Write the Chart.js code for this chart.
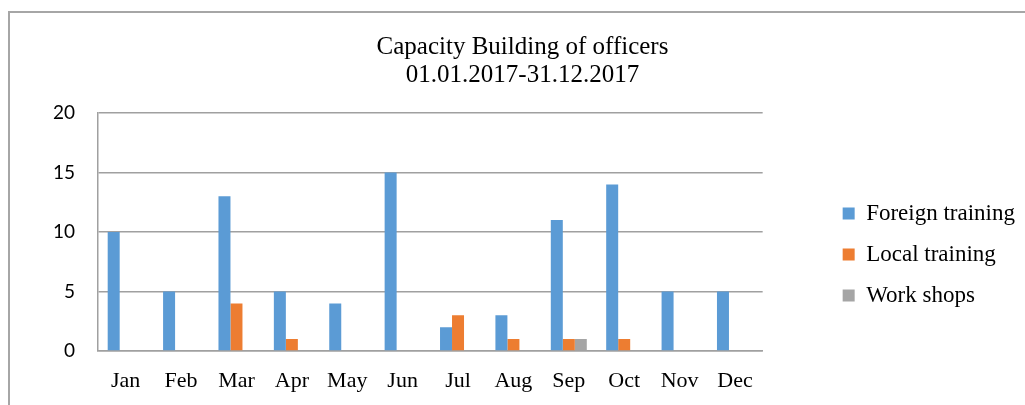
<!DOCTYPE html>
<html>
<head>
<meta charset="utf-8">
<script src="https://cdn.jsdelivr.net/npm/chart.js@4/dist/chart.umd.min.js"></script>
<style>
  body { margin: 0; background: #fff; }
  #wrap { position: relative; width: 1025px; height: 405px; overflow: hidden; }
  /* the frame of the chart object, only the left and top edges show */
  #frame { position: absolute; left: 8px; top: 11px; width: 1100px; height: 500px;
           border-left: 2px solid #a6a6a6; border-top: 2px solid #a6a6a6; }
  canvas { position: absolute; left: 0; top: 0; }
</style>
</head>
<body>
<div id="wrap">
  <div id="frame"></div>
  <canvas id="chart-output" width="1025" height="405"></canvas>
</div>
<script>
// chart data
const months = ["Jan", "Feb", "Mar", "Apr", "May", "Jun", "Jul", "Aug", "Sep", "Oct", "Nov", "Dec"];
const foreignTraining = [10, 5, 13, 5, 4, 15, 2, 3, 11, 14, 5, 5];
const localTraining = [0, 0, 4, 1, 0, 0, 3, 1, 1, 1, 0, 0];
const workShops = [0, 0, 0, 0, 0, 0, 0, 0, 1, 0, 0, 0];
const yTicks = [0, 5, 10, 15, 20];
const titleLines = ["Capacity Building of officers", "01.01.2017-31.12.2017"];

const serif = "'Liberation Serif', 'Times New Roman', serif";
const gridGray = "#a0a0a0";

const ctx = document.querySelector("#chart-output").getContext("2d");

const data = {
  labels: months,
  datasets: [
    { label: "Foreign training", data: foreignTraining, backgroundColor: "#5b9bd5" },
    { label: "Local training", data: localTraining, backgroundColor: "#ed7d31" },
    { label: "Work shops", data: workShops, backgroundColor: "#a5a5a5" },
  ],
};

const config = {
  type: "bar",
  data: data,
  options: {
    responsive: false,
    animation: false,
    layout: { padding: { left: 20, right: 0, top: 0, bottom: 11 } },
    datasets: {
      bar: { categoryPercentage: 0.65, barPercentage: 1.0, borderWidth: 0 },
    },
    plugins: {
      title: {
        display: true,
        text: titleLines,
        color: "#000",
        font: { family: serif, size: 25, weight: "normal", lineHeight: 1.12 },
        padding: { top: 33, bottom: 24 },
      },
      legend: {
        position: "right",
        align: "center",
        fullSize: true,
        maxWidth: 220,
        // blank title only pushes the entries down
        title: { display: true, text: " ", font: { size: 10 }, padding: { top: 0, bottom: 103 } },
        labels: {
          color: "#000",
          boxWidth: 12,
          boxHeight: 12,
          padding: 18,
          font: { family: serif, size: 23 },
        },
      },
      tooltip: { enabled: false },
    },
    scales: {
      x: {
        afterFit: (scale) => { scale.height = 43; },
        grid: { display: false, drawTicks: false },
        border: { display: true, color: gridGray, width: 1.5 },
        ticks: { color: "#000", padding: 17, font: { family: serif, size: 22 } },
      },
      y: {
        min: 0,
        max: 20,
        afterFit: (scale) => { scale.width = 78; },
        afterBuildTicks: (scale) => { scale.ticks = yTicks.map((v) => ({ value: v })); },
        grid: { color: gridGray, lineWidth: 1.5, drawTicks: false },
        border: { display: true, color: gridGray, width: 1.5 },
        ticks: { color: "#000", padding: 23, font: { family: "Lato, 'Liberation Sans', sans-serif", size: 19 } },
      },
      // empty axis that keeps the gap between plot and legend
      gap: {
        type: "linear",
        position: "right",
        afterFit: (scale) => { scale.width = 62; },
        grid: { display: false },
        border: { display: false },
        ticks: { display: false },
      },
    },
  },
};

new Chart(ctx, config);
</script>
</body>
</html>
